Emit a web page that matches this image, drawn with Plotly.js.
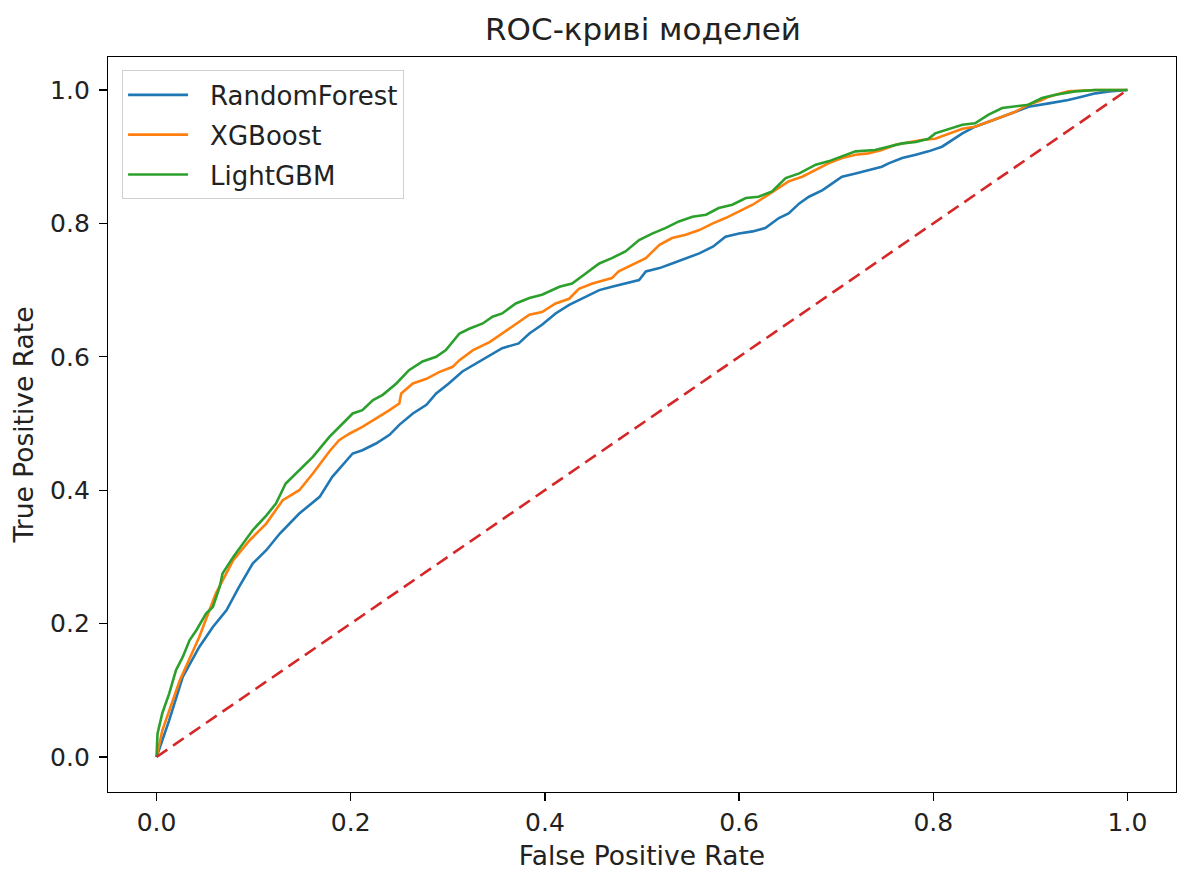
<!DOCTYPE html>
<html>
<head>
<meta charset="utf-8">
<script src="https://cdn.plot.ly/plotly-3.0.1.min.js"></script>
<style>html,body{margin:0;padding:0;background:#fff;}#chart{width:1193px;height:888px;}</style>
</head>
<body>
<div id="chart"></div>
<script>
const rfFpr = [0, 0.006, 0.013, 0.027, 0.044, 0.058, 0.072, 0.085, 0.099, 0.113, 0.127, 0.147, 0.168, 0.181, 0.202, 0.212, 0.226, 0.240, 0.250, 0.264, 0.278, 0.288, 0.301, 0.315, 0.329, 0.343, 0.356, 0.373, 0.384, 0.397, 0.411, 0.425, 0.442, 0.456, 0.469, 0.483, 0.497, 0.504, 0.518, 0.531, 0.545, 0.559, 0.573, 0.586, 0.600, 0.614, 0.627, 0.641, 0.651, 0.662, 0.672, 0.686, 0.696, 0.706, 0.720, 0.733, 0.747, 0.754, 0.768, 0.782, 0.795, 0.809, 0.819, 0.830, 0.843, 0.857, 0.871, 0.884, 0.898, 0.919, 0.939, 0.953, 0.967, 0.981, 1.0];
const rfTpr = [0, 0.025, 0.055, 0.120, 0.165, 0.195, 0.220, 0.255, 0.290, 0.310, 0.335, 0.365, 0.390, 0.420, 0.455, 0.460, 0.470, 0.483, 0.498, 0.515, 0.528, 0.545, 0.560, 0.578, 0.590, 0.603, 0.613, 0.620, 0.635, 0.648, 0.665, 0.678, 0.690, 0.700, 0.705, 0.710, 0.715, 0.728, 0.733, 0.740, 0.748, 0.755, 0.765, 0.780, 0.785, 0.788, 0.793, 0.808, 0.815, 0.830, 0.840, 0.850, 0.860, 0.870, 0.875, 0.880, 0.885, 0.890, 0.898, 0.903, 0.908, 0.915, 0.925, 0.935, 0.945, 0.952, 0.960, 0.967, 0.975, 0.980, 0.985, 0.990, 0.995, 0.998, 1.0];

const xgbFpr = [0, 0.006, 0.024, 0.044, 0.061, 0.079, 0.096, 0.113, 0.130, 0.147, 0.161, 0.178, 0.188, 0.199, 0.212, 0.226, 0.240, 0.250, 0.252, 0.264, 0.278, 0.291, 0.305, 0.312, 0.326, 0.343, 0.356, 0.370, 0.384, 0.397, 0.411, 0.425, 0.435, 0.449, 0.469, 0.476, 0.490, 0.504, 0.518, 0.531, 0.545, 0.559, 0.573, 0.586, 0.600, 0.614, 0.627, 0.641, 0.651, 0.665, 0.679, 0.692, 0.706, 0.720, 0.733, 0.747, 0.761, 0.775, 0.788, 0.802, 0.816, 0.830, 0.843, 0.857, 0.871, 0.884, 0.898, 0.912, 0.919, 0.939, 0.967, 1.0];
const xgbTpr = [0, 0.04, 0.115, 0.18, 0.245, 0.295, 0.325, 0.350, 0.385, 0.400, 0.425, 0.458, 0.475, 0.485, 0.495, 0.507, 0.520, 0.530, 0.545, 0.560, 0.567, 0.577, 0.585, 0.595, 0.610, 0.622, 0.635, 0.648, 0.663, 0.667, 0.680, 0.687, 0.702, 0.710, 0.718, 0.728, 0.738, 0.748, 0.768, 0.778, 0.783, 0.790, 0.800, 0.808, 0.818, 0.828, 0.840, 0.853, 0.863, 0.870, 0.880, 0.890, 0.898, 0.903, 0.905, 0.910, 0.918, 0.922, 0.925, 0.927, 0.935, 0.942, 0.945, 0.952, 0.960, 0.967, 0.978, 0.985, 0.990, 0.998, 1.0, 1.0];

const lgbFpr = [0, 0.001, 0.006, 0.013, 0.020, 0.027, 0.034, 0.041, 0.051, 0.058, 0.065, 0.068, 0.079, 0.089, 0.099, 0.113, 0.123, 0.133, 0.147, 0.161, 0.178, 0.188, 0.202, 0.212, 0.223, 0.233, 0.247, 0.260, 0.274, 0.288, 0.298, 0.312, 0.322, 0.336, 0.346, 0.356, 0.370, 0.384, 0.397, 0.415, 0.428, 0.442, 0.456, 0.469, 0.483, 0.497, 0.511, 0.524, 0.538, 0.552, 0.566, 0.579, 0.593, 0.607, 0.620, 0.634, 0.648, 0.662, 0.679, 0.692, 0.706, 0.720, 0.740, 0.754, 0.768, 0.782, 0.795, 0.802, 0.816, 0.830, 0.843, 0.857, 0.871, 0.884, 0.898, 0.912, 0.926, 0.946, 0.967, 1.0];
const lgbTpr = [0, 0.035, 0.066, 0.095, 0.130, 0.150, 0.175, 0.190, 0.215, 0.225, 0.255, 0.275, 0.300, 0.320, 0.340, 0.362, 0.380, 0.410, 0.430, 0.450, 0.480, 0.495, 0.515, 0.520, 0.535, 0.543, 0.560, 0.580, 0.593, 0.600, 0.610, 0.635, 0.642, 0.650, 0.660, 0.665, 0.680, 0.688, 0.693, 0.705, 0.710, 0.725, 0.740, 0.748, 0.758, 0.775, 0.785, 0.793, 0.803, 0.810, 0.813, 0.823, 0.828, 0.838, 0.840, 0.848, 0.868, 0.875, 0.888, 0.893, 0.900, 0.908, 0.910, 0.915, 0.920, 0.922, 0.927, 0.935, 0.942, 0.948, 0.950, 0.963, 0.973, 0.975, 0.978, 0.988, 0.993, 0.998, 1.0, 1.0];

const diagX = [0, 1];
const diagY = [0, 1];

const seriesNames = ['RandomForest', 'XGBoost', 'LightGBM'];
const seriesColors = ['#1f77b4', '#ff7f0e', '#2ca02c'];
const tickVals = [0, 0.2, 0.4, 0.6, 0.8, 1.0];
const tickText = ['0.0', '0.2', '0.4', '0.6', '0.8', '1.0'];

const xs = [rfFpr, xgbFpr, lgbFpr];
const ys = [rfTpr, xgbTpr, lgbTpr];

const traces = seriesNames.map((n, i) => ({
  x: xs[i], y: ys[i], name: n, type: 'scatter', mode: 'lines', legendgroup: 'g' + i,
  line: {color: seriesColors[i], width: 2.6}
}));
traces.push({x: diagX, y: diagY, type: 'scatter', mode: 'lines', showlegend: false,
  line: {color: '#d62728', width: 2.6, dash: '13px,7px'}});

const font = 'DejaVu Sans, sans-serif';
const axisCommon = {
  showline: true, linecolor: '#000', linewidth: 1.2, mirror: true,
  ticks: 'outside', ticklen: 8, tickwidth: 1.2, tickcolor: '#000',
  showgrid: false, zeroline: false,
  tickvals: tickVals, ticktext: tickText,
  tickfont: {family: font, size: 25, color: '#222'}
};

const layout = {
  width: 1193, height: 888,
  margin: {l: 108, r: 17, t: 57, b: 96},
  paper_bgcolor: '#fff', plot_bgcolor: '#fff',
  font: {family: font, color: '#222'},
  title: {text: 'ROC-криві моделей', font: {family: font, size: 31, color: '#222'}, x: 0.539, xanchor: 'center', y: 0.967, yanchor: 'middle'},
  xaxis: Object.assign({}, axisCommon, {range: [-0.05, 1.05],
    title: {text: 'False Positive Rate', font: {family: font, size: 26.5, color: '#222'}, standoff: 10}}),
  yaxis: Object.assign({}, axisCommon, {range: [-0.0525, 1.0495], ticklabelstandoff: 4,
    title: {text: 'True Positive Rate', font: {family: font, size: 26.5, color: '#222'}, standoff: 8}}),
  legend: {x: 0.013, y: 0.982, xanchor: 'left', yanchor: 'top',
    bgcolor: 'rgba(255,255,255,0.8)', bordercolor: '#d0d0d0', borderwidth: 1.2,
    font: {family: font, size: 26, color: '#222'}, itemwidth: 60, tracegroupgap: 3}
};

Plotly.newPlot('chart', traces, layout, {displayModeBar: false, staticPlot: true}).then(gd => {
  // widen the gap between legend line samples and their labels, as in the reference
  const shift = 17;
  gd.querySelectorAll('.legend .legendtext').forEach(t => {
    t.setAttribute('x', (+t.getAttribute('x') || 0) + shift);
  });
  const bg = gd.querySelector('.legend rect.bg');
  if (bg) bg.setAttribute('width', (+bg.getAttribute('width')) + shift);
  gd.querySelectorAll('clipPath[id*="legend"] rect').forEach(r => {
    r.setAttribute('width', (+r.getAttribute('width')) + shift);
  });
});
</script>
</body>
</html>
